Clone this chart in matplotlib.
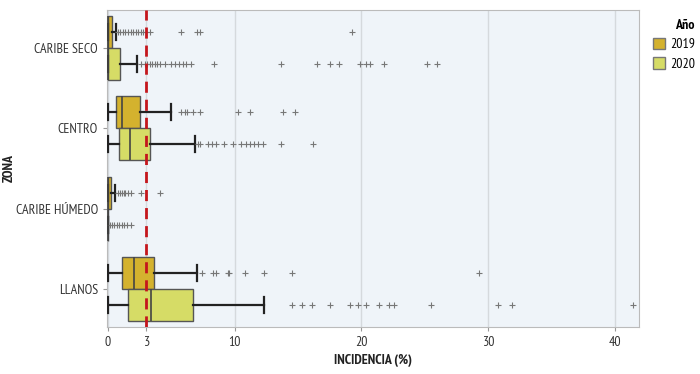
import matplotlib
matplotlib.use("Agg")
import matplotlib.pyplot as plt
from matplotlib.patches import Patch

plt.rcParams["font.family"] = ["PT Sans Narrow", "Roboto Condensed", "Fira Sans Condensed",
                               "Barlow Semi Condensed", "DejaVu Sans"]

zones = ["CARIBE SECO", "CENTRO", "CARIBE HÚMEDO", "LLANOS"]
years = ["2019", "2020"]
colors = {"2019": "#D4B22E", "2020": "#D6DC66"}

# box statistics (incidence %), per zone, per year
q1 = {"2019": [0.0, 0.68, 0.0, 1.16], "2020": [0.0, 0.89, 0.0, 1.60]}
med = {"2019": [0.0, 1.16, 0.0, 2.07], "2020": [0.0, 1.73, 0.0, 3.45]}
q3 = {"2019": [0.30, 2.58, 0.23, 3.65], "2020": [0.95, 3.31, 0.0, 6.73]}
whislo = {"2019": [0.0, 0.0, 0.0, 0.0], "2020": [0.0, 0.0, 0.0, 0.0]}
whishi = {"2019": [0.68, 5.0, 0.55, 7.0], "2020": [2.3, 6.9, 0.0, 12.3]}

fliers_2019 = [
    [0.8, 1.0, 1.2, 1.4, 1.6, 1.8, 2.0, 2.2, 2.4, 2.6, 2.8, 3.0, 3.3, 5.8, 7.0, 7.3, 19.3],
    [5.8, 6.07, 6.25, 6.7, 7.26, 10.3, 11.2, 13.8, 14.8],
    [0.8, 0.95, 1.1, 1.25, 1.4, 1.6, 1.87, 2.65, 4.1],
    [7.47, 8.3, 8.5, 9.5, 9.6, 10.8, 12.3, 14.5, 29.3],
]
fliers_2020 = [
    [2.65, 2.9, 3.1, 3.3, 3.5, 3.7, 3.9, 4.1, 4.5, 5.0, 5.3, 5.6, 5.9, 6.2, 6.6, 8.4,
     13.7, 16.5, 17.5, 18.2, 19.9, 20.4, 20.7, 21.8, 25.2, 26.0],
    [7.1, 7.26, 7.9, 8.2, 8.5, 9.2, 9.9, 10.5, 10.9, 11.2, 11.5, 11.85, 12.25, 13.7, 16.2],
    [0.2, 0.3, 0.5, 0.7, 0.9, 1.1, 1.3, 1.5, 1.8],
    [14.5, 15.3, 16.1, 17.5, 19.1, 19.7, 20.4, 21.4, 22.2, 22.6, 25.5, 30.8, 31.9, 41.4],
]
fliers = {"2019": fliers_2019, "2020": fliers_2020}

xticks = [0, 3, 10, 20, 30, 40]
threshold = 3

fig = plt.figure(figsize=(7, 3.74), dpi=100)
ax = fig.add_axes([0.153, 0.126, 0.76, 0.847])
ax.set_facecolor("#EFF4F9")

offsets = {"2019": -0.2, "2020": 0.2}
for yr in years:
    stats = []
    for i in range(len(zones)):
        stats.append(dict(med=med[yr][i], q1=q1[yr][i], q3=q3[yr][i],
                          whislo=whislo[yr][i], whishi=whishi[yr][i],
                          fliers=fliers[yr][i]))
    pos = [i + offsets[yr] for i in range(len(zones))]
    ax.bxp(stats, positions=pos, widths=0.4, orientation="horizontal",
           patch_artist=True, manage_ticks=False,
           boxprops=dict(facecolor=colors[yr], edgecolor="#555555", linewidth=1.0),
           medianprops=dict(color="#444444", linewidth=1.2),
           whiskerprops=dict(color="#222222", linewidth=1.6),
           capprops=dict(color="#222222", linewidth=1.6),
           capwidths=0.2,
           flierprops=dict(marker="+", markersize=4.5, markeredgecolor="#777777",
                           markeredgewidth=0.8, linestyle="none"),
           zorder=3)

ax.axvline(threshold, color="#C4161C", linestyle=(0, (4, 2.5)), linewidth=2, zorder=4)

ax.set_xlim(-0.05, 41.9)
ax.set_ylim(3.47, -0.47)
ax.set_yticks(range(len(zones)))
ax.set_yticklabels(zones)
ax.set_xticks(xticks)
ax.set_xticklabels([str(t) for t in xticks])
ax.grid(axis="x", color="#D5D9DD", linewidth=1, zorder=0)
ax.set_axisbelow(True)
for s in ax.spines.values():
    s.set_color("#BBBBBB")
ax.tick_params(axis="both", colors="#999999", labelcolor="#333333", labelsize=10, length=3)

ax.set_xlabel("INCIDENCIA (%)", fontweight="bold", fontsize=10, color="#222222", labelpad=4)
ax.set_ylabel("ZONA", fontweight="bold", fontsize=10, color="#222222")
ax.yaxis.set_label_coords(-0.172, 0.5)

handles = [Patch(facecolor=colors[y], edgecolor="#777777", label=y) for y in years]
leg = fig.legend(handles=handles, title="Año", loc="upper left",
                 bbox_to_anchor=(0.925, 0.965), frameon=False, fontsize=10,
                 title_fontsize=10, handlelength=0.85, handleheight=0.85,
                 handletextpad=0.35, labelspacing=0.45, borderaxespad=0)
leg.get_title().set_fontweight("bold")
leg._legend_box.align = "right"

fig.savefig("out.png", dpi=100)
